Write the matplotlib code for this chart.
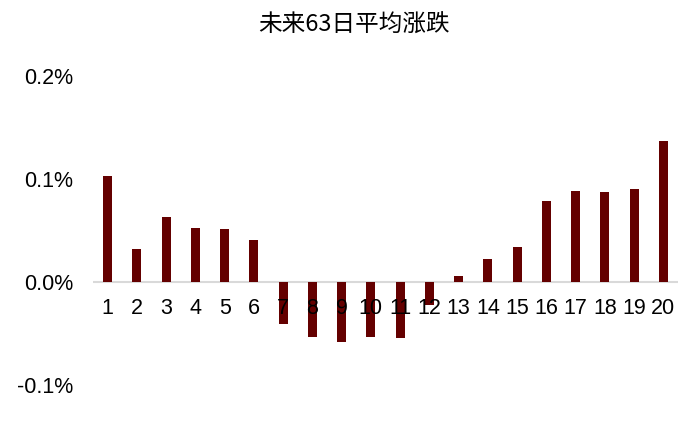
import matplotlib
matplotlib.use("Agg")
import matplotlib.pyplot as plt
from matplotlib.ticker import FuncFormatter

# average return over next 63 days, in percent
groups = [str(i) for i in range(1, 21)]
avg_ret = [0.103, 0.032, 0.063, 0.052, 0.051, 0.041,
           -0.041, -0.053, -0.058, -0.053, -0.054, -0.022,
           0.006, 0.022, 0.034, 0.079, 0.088, 0.087, 0.090, 0.137]
y_ticks = [-0.1, 0.0, 0.1, 0.2]
title = "未来63日平均涨跌"

bar_color = "#640000"

plt.rcParams["font.family"] = ["Liberation Sans", "DejaVu Sans"]

fig = plt.figure(figsize=(7.0, 4.23), dpi=100)
ax = fig.add_axes([93 / 700, 38 / 423, 585 / 700, 309 / 423])

x = list(range(1, len(groups) + 1))
ax.bar(x, avg_ret, width=0.31, color=bar_color, zorder=2)
ax.axhline(0, color="#D9D9D9", lw=1.5, zorder=1)

ax.set_xlim(0.5, 20.5)
ax.set_ylim(-0.1, 0.2)
ax.set_yticks(y_ticks)
ax.yaxis.set_major_formatter(FuncFormatter(lambda v, _: f"{v:.1f}%"))
ax.tick_params(axis="y", length=0, pad=14, labelsize=15.5)
ax.set_xticks([])

for xi, lab in zip(x, groups):
    ax.annotate(lab, (xi, 0), xytext=(0, -27), textcoords="offset pixels",
                ha="center", va="center", fontsize=15.5, color="black",
                zorder=3)

for s in ax.spines.values():
    s.set_visible(False)

fig.text(354 / 700, 1 - 25 / 423, title, ha="center", va="center",
         fontsize=17, family=["Noto Sans CJK SC", "DejaVu Sans"])

fig.savefig("out.png", dpi=100)
